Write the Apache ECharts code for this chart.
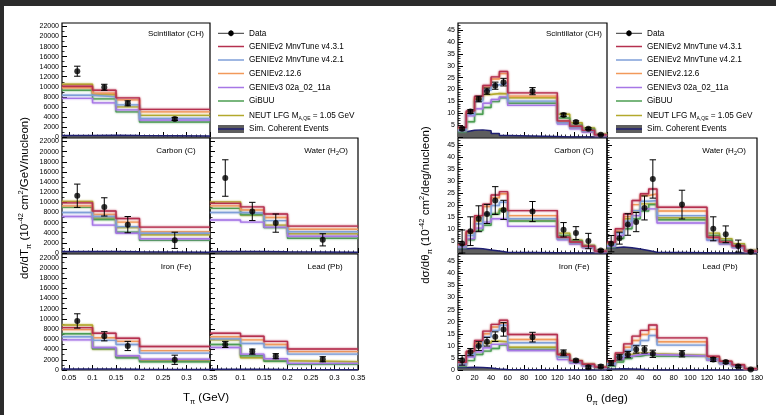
<!DOCTYPE html>
<html>
<head>
<meta charset="utf-8">
<script src="https://cdn.jsdelivr.net/npm/echarts@6/dist/echarts.min.js"></script>
<style>html,body{margin:0;padding:0;background:#fff;}#c{width:776px;height:415px;}</style>
</head>
<body>
<div id="c"></div>
<script>
// ---------------- DATA ----------------
// bin edges and data-point centres
const tEdges = [0.035, 0.1, 0.15, 0.2, 0.35];
const tCenters = [0.0675, 0.125, 0.175, 0.275];
const thEdges = [0, 10, 20, 30, 40, 50, 60, 120, 135, 150, 165, 180];
const thCenters = [5, 15, 25, 35, 45, 55, 90, 127.5, 142.5, 157.5, 172.5];

// tick labels
const tTickLabels = [0.05, 0.1, 0.15, 0.2, 0.25, 0.3, 0.35];
const tTickLabelsLead = [0.1, 0.15, 0.2, 0.25, 0.3, 0.35];
const thTickLabels = [0, 20, 40, 60, 80, 100, 120, 140, 160, 180];
const thTickLabelsLead = [20, 40, 60, 80, 100, 120, 140, 160, 180];
const tYTickLabels = [0, 2000, 4000, 6000, 8000, 10000, 12000, 14000, 16000, 18000, 20000, 22000];
const thYTickLabels = [5, 10, 15, 20, 25, 30, 35, 40, 45];
const thYTickLabelsBottom = [0, 5, 10, 15, 20, 25, 30, 35, 40, 45];

// model names (row order: v4.3.1, v4.2.1, 2.12.6, v3, GiBUU, NEUT)
const modelNames = ['GENIEv2 MnvTune v4.3.1', 'GENIEv2 MnvTune v4.2.1', 'GENIEv2.12.6', 'GENIEv3 02a_02_11a', 'GiBUU', 'NEUT LFG MA,QE = 1.05 GeV'];

// ---- T_pi (1e-42 cm2/GeV/nucleon) ----
const tScintModels = [
  [10100, 9300, 7800, 5500],
  [8300, 8000, 6400, 3700],
  [9800, 8700, 7400, 5000],
  [7700, 6800, 5400, 3400],
  [9300, 7600, 5000, 3000],
  [10500, 8400, 6000, 4300]
];
const tScintData = [13100, 9900, 6700, 3600];
const tScintErr = [1000, 600, 500, 300];
const tScintCoh = [300, 350, 300, 200];

const tCarbonModels = [
  [9900, 8300, 6800, 5100],
  [8000, 7200, 5200, 3900],
  [9300, 7600, 6100, 4200],
  [7200, 5500, 3900, 2800],
  [9000, 6600, 4100, 2500],
  [10200, 6900, 5000, 3600]
];
const tCarbonData = [11300, 9100, 5600, 2500];
const tCarbonErr = [2300, 1800, 1600, 1600];
const tCarbonCoh = [300, 300, 250, 150];

const tWaterModels = [
  [9800, 9100, 7700, 5300],
  [8000, 7900, 6400, 4200],
  [9300, 8500, 7000, 4700],
  [6500, 6100, 5100, 3300],
  [8800, 7600, 5000, 2900],
  [10100, 7500, 5500, 3800]
];
const tWaterData = [14800, 8200, 5900, 2600];
const tWaterErr = [3600, 1800, 1800, 1200];
const tWaterCoh = [300, 300, 250, 150];

const tIronModels = [
  [8300, 7200, 6200, 4600],
  [6500, 5800, 5000, 3300],
  [7900, 6300, 5600, 3800],
  [5900, 4400, 2800, 2100],
  [7100, 4200, 2400, 1600],
  [8800, 4100, 2600, 1900]
];
const tIronData = [9600, 6600, 4700, 2000];
const tIronErr = [1400, 900, 900, 900];
const tIronCoh = [200, 200, 150, 100];

const tLeadModels = [
  [7200, 6600, 5600, 4100],
  [6100, 5200, 4400, 3100],
  [6500, 5900, 5000, 3600],
  [4400, 3100, 2200, 1300],
  [5000, 2800, 1700, 1100],
  [5900, 2400, 1800, 1600]
];
const tLeadData = [5000, 3600, 2700, 2100];
const tLeadErr = [600, 500, 500, 500];
const tLeadCoh = [150, 150, 100, 50];

// ---- theta_pi (1e-42 cm2/deg/nucleon) ----
const thScintModels = [
  [4.0, 11.0, 17.2, 21.7, 25.3, 27.6, 18.6, 6.8, 4.5, 2.8, 0.9],
  [3.0, 9.6, 15.1, 19.7, 22.0, 22.5, 15.1, 6.0, 4.0, 2.4, 0.8],
  [3.6, 10.3, 16.5, 21.0, 24.4, 26.7, 17.2, 6.5, 4.2, 2.6, 0.8],
  [2.7, 8.9, 11.9, 14.2, 15.8, 16.9, 13.3, 5.5, 3.5, 2.0, 0.6],
  [2.2, 6.4, 9.6, 12.4, 14.9, 16.5, 14.2, 8.0, 5.0, 3.3, 0.9],
  [3.3, 9.9, 15.8, 17.9, 18.3, 18.2, 16.5, 9.6, 6.0, 3.8, 1.3]
];
const thScintData = [3.5, 10.7, 16.0, 19.3, 21.6, 23.1, 19.3, 9.3, 6.3, 3.5, 1.0];
const thScintErr = [0.6, 0.8, 1.2, 1.3, 1.5, 1.6, 1.5, 0.7, 0.5, 0.4, 0.2];
const thScintCoh = [2.2, 2.8, 3.0, 2.6, 1.5, 0.6, 0.2, 0, 0, 0, 0];

const thCarbonModels = [
  [3.5, 9.1, 15.6, 20.4, 24.2, 25.6, 17.7, 6.6, 4.6, 2.8, 0.8],
  [2.8, 7.3, 12.2, 16.3, 19.8, 21.2, 14.3, 5.8, 4.0, 2.5, 0.7],
  [3.2, 8.8, 14.9, 19.4, 23.0, 24.7, 15.6, 6.2, 4.3, 2.6, 0.8],
  [2.5, 6.0, 10.4, 12.9, 14.3, 14.3, 11.1, 5.5, 3.6, 2.2, 0.6],
  [2.2, 5.5, 9.4, 11.6, 16.3, 17.7, 13.3, 7.3, 5.0, 3.0, 0.9],
  [3.0, 8.4, 13.3, 16.1, 16.6, 18.4, 13.6, 8.3, 5.3, 3.2, 1.1]
];
const thCarbonData = [4.0, 9.1, 14.3, 16.3, 21.9, 18.0, 17.3, 9.7, 8.3, 5.0, 1.0];
const thCarbonErr = [5.6, 6.0, 5.4, 4.0, 5.8, 4.0, 4.2, 3.0, 2.7, 3.2, 0.5];
const thCarbonCoh = [1.8, 2.0, 1.8, 1.3, 0.8, 0.3, 0.1, 0, 0, 0, 0];

const thWaterModels = [
  [4.5, 10.1, 16.3, 21.9, 24.7, 26.7, 19.1, 6.6, 4.6, 2.9, 0.8],
  [3.2, 8.3, 13.3, 17.7, 21.6, 21.9, 15.6, 5.5, 3.9, 2.5, 0.7],
  [3.8, 9.1, 15.2, 20.2, 24.0, 24.7, 17.5, 6.2, 4.2, 2.7, 0.8],
  [2.8, 7.3, 11.5, 15.6, 18.4, 18.4, 12.5, 5.3, 3.6, 2.2, 0.6],
  [2.5, 6.0, 10.1, 14.3, 17.5, 20.2, 13.9, 7.3, 5.2, 3.2, 0.9],
  [3.5, 9.0, 14.3, 17.5, 20.5, 20.5, 14.7, 8.3, 6.0, 3.9, 1.2]
];
const thWaterData = [3.9, 6.2, 11.9, 12.9, 18.8, 30.9, 20.2, 10.1, 7.8, 2.9, 0.5];
const thWaterErr = [3.4, 2.5, 4.5, 4.0, 5.0, 8.0, 6.0, 5.0, 3.5, 2.5, 0.4];
const thWaterCoh = [2.2, 2.5, 2.2, 1.7, 1.0, 0.3, 0.1, 0, 0, 0, 0];

const thIronModels = [
  [3.2, 7.8, 12.2, 16.1, 18.9, 20.6, 14.7, 6.4, 3.9, 2.4, 1.2],
  [2.5, 6.4, 9.9, 13.7, 16.4, 18.5, 11.3, 5.5, 3.3, 2.0, 1.0],
  [2.8, 7.3, 11.1, 15.0, 17.8, 19.3, 12.6, 6.0, 3.5, 2.2, 1.1],
  [2.0, 5.4, 7.5, 9.2, 10.6, 10.8, 8.1, 4.3, 2.8, 1.6, 0.8],
  [1.5, 3.9, 6.4, 7.8, 8.9, 10.3, 8.5, 5.4, 3.3, 2.0, 1.0],
  [2.6, 6.8, 9.9, 11.0, 11.9, 11.7, 9.4, 6.7, 3.9, 2.4, 1.3]
];
const thIronData = [4.0, 7.4, 9.9, 11.7, 13.8, 16.8, 13.6, 7.1, 3.9, 1.1, 1.5];
const thIronErr = [2.0, 1.5, 1.8, 1.8, 2.0, 2.8, 2.0, 1.2, 0.6, 0.6, 0.6];
const thIronCoh = [1.0, 1.1, 1.0, 0.8, 0.4, 0.2, 0.05, 0, 0, 0, 0];

const thLeadModels = [
  [3.6, 7.1, 10.8, 14.0, 16.4, 18.6, 13.3, 5.7, 3.6, 2.2, 0.5],
  [2.6, 5.7, 8.1, 10.3, 12.2, 14.3, 10.3, 4.7, 3.0, 1.8, 0.4],
  [3.0, 6.4, 9.4, 12.2, 14.7, 16.8, 11.7, 5.2, 3.3, 2.0, 0.5],
  [2.2, 4.6, 5.7, 6.4, 6.7, 6.4, 5.8, 4.0, 2.6, 1.5, 0.4],
  [1.5, 3.3, 4.7, 5.7, 6.4, 5.7, 5.7, 4.1, 2.8, 1.6, 0.4],
  [2.4, 5.0, 6.4, 7.1, 7.1, 6.7, 6.0, 4.6, 3.0, 1.7, 0.5]
];
const thLeadData = [2.9, 5.3, 6.4, 8.5, 8.5, 6.7, 6.7, 4.3, 3.3, 1.5, 0.2];
const thLeadErr = [1.0, 1.2, 1.3, 1.5, 1.5, 1.5, 1.3, 0.8, 0.5, 0.5, 0.3];
const thLeadCoh = [0.4, 0.5, 0.4, 0.3, 0.15, 0.05, 0, 0, 0, 0, 0];

// ---------------- STYLE / LAYOUT ----------------
const FONT = '"Liberation Sans", Arial, Helvetica, sans-serif';
const modelColors = ['#b5304f', '#7f9fd8', '#f2995a', '#a777e6', '#4c9e52', '#b3a92c'];
const cohFill = '#5e5e5e';
const cohLine = '#1f1f72';

const panels = [
  // T_pi
  {kind: 't', m: tScintModels, d: tScintData, e: tScintErr, c: tScintCoh, g: {left: 62, top: 23, width: 148, height: 114}, xl: null, yl: tYTickLabels, label: '{n|Scintillator (CH)}', lx: 176, ly: 34},
  {kind: 't', m: tCarbonModels, d: tCarbonData, e: tCarbonErr, c: tCarbonCoh, g: {left: 62, top: 138, width: 148, height: 115}, xl: null, yl: tYTickLabels, label: '{n|Carbon (C)}', lx: 176, ly: 151},
  {kind: 't', m: tWaterModels, d: tWaterData, e: tWaterErr, c: tWaterCoh, g: {left: 210, top: 138, width: 148, height: 115}, xl: null, yl: null, label: '{n|Water (H}{s|2}{n|O)}', lx: 326, ly: 151},
  {kind: 't', m: tIronModels, d: tIronData, e: tIronErr, c: tIronCoh, g: {left: 62, top: 254, width: 148, height: 116}, xl: tTickLabels, yl: tYTickLabels, label: '{n|Iron (Fe)}', lx: 176, ly: 267},
  {kind: 't', m: tLeadModels, d: tLeadData, e: tLeadErr, c: tLeadCoh, g: {left: 210, top: 254, width: 148, height: 116}, xl: tTickLabelsLead, yl: null, label: '{n|Lead (Pb)}', lx: 325, ly: 267},
  // theta_pi
  {kind: 'th', m: thScintModels, d: thScintData, e: thScintErr, c: thScintCoh, g: {left: 458, top: 23, width: 149, height: 114}, xl: null, yl: thYTickLabels, label: '{n|Scintillator (CH)}', lx: 574, ly: 34},
  {kind: 'th', m: thCarbonModels, d: thCarbonData, e: thCarbonErr, c: thCarbonCoh, g: {left: 458, top: 138, width: 149, height: 115}, xl: null, yl: thYTickLabels, label: '{n|Carbon (C)}', lx: 574, ly: 151},
  {kind: 'th', m: thWaterModels, d: thWaterData, e: thWaterErr, c: thWaterCoh, g: {left: 607, top: 138, width: 150, height: 115}, xl: null, yl: null, label: '{n|Water (H}{s|2}{n|O)}', lx: 724, ly: 151},
  {kind: 'th', m: thIronModels, d: thIronData, e: thIronErr, c: thIronCoh, g: {left: 458, top: 254, width: 149, height: 116}, xl: thTickLabels, yl: thYTickLabelsBottom, label: '{n|Iron (Fe)}', lx: 574, ly: 267},
  {kind: 'th', m: thLeadModels, d: thLeadData, e: thLeadErr, c: thLeadCoh, g: {left: 607, top: 254, width: 150, height: 116}, xl: thTickLabelsLead, yl: null, label: '{n|Lead (Pb)}', lx: 720, ly: 267}
];

function range(a, b, step) { const r = []; for (let v = a; v <= b + 1e-9; v += step) r.push(+v.toFixed(4)); return r; }
const axisDefs = {
  t: {xMin: tEdges[0], xMax: tEdges[tEdges.length - 1], xMajor: tTickLabels, xMinor: range(0.04, 0.35, 0.01),
      yMax: 22700, yMajor: tYTickLabels, yMinor: range(1000, 22000, 1000), edges: tEdges, centers: tCenters},
  th: {xMin: 0, xMax: 180, xMajor: thTickLabels, xMinor: range(0, 180, 5),
       yMax: 48, yMajor: thYTickLabelsBottom, yMinor: range(1, 47, 1), edges: thEdges, centers: thCenters}
};

function hist(edges, vals) {
  const d = vals.map((v, i) => [edges[i], v]);
  d.push([edges[edges.length - 1], vals[vals.length - 1]]);
  return d;
}

const grids = [], xAxes = [], yAxes = [], series = [], graphic = [];
const lbl = {fontSize: 7.5, color: '#000', fontFamily: FONT};

panels.forEach((p, gi) => {
  const a = axisDefs[p.kind];
  grids.push(Object.assign({show: true, borderColor: '#000', borderWidth: 1.2, backgroundColor: 'transparent', containLabel: false}, p.g));
  const xi = xAxes.length, yi = yAxes.length;
  xAxes.push({type: 'value', gridIndex: gi, min: a.xMin, max: a.xMax, position: 'bottom',
    axisLine: {show: false}, splitLine: {show: false},
    axisTick: {show: true, inside: true, length: 5, customValues: a.xMajor, lineStyle: {color: '#000', width: 1}},
    axisLabel: Object.assign({show: !!p.xl, customValues: p.xl || [], margin: 4, formatter: v => String(v)}, lbl)});
  xAxes.push({type: 'value', gridIndex: gi, min: a.xMin, max: a.xMax, position: 'bottom',
    axisLine: {show: false}, splitLine: {show: false}, axisLabel: {show: false},
    axisTick: {show: true, inside: true, length: 2.5, customValues: a.xMinor, lineStyle: {color: '#000', width: 0.8}}});
  yAxes.push({type: 'value', gridIndex: gi, min: 0, max: a.yMax, position: 'left',
    axisLine: {show: false}, splitLine: {show: false},
    axisTick: {show: true, inside: true, length: 5, customValues: a.yMajor, lineStyle: {color: '#000', width: 1}},
    axisLabel: Object.assign({show: !!p.yl, customValues: p.yl || [], margin: 3, formatter: v => String(v)}, lbl, {fontSize: 7})});
  yAxes.push({type: 'value', gridIndex: gi, min: 0, max: a.yMax, position: 'left',
    axisLine: {show: false}, splitLine: {show: false}, axisLabel: {show: false},
    axisTick: {show: true, inside: true, length: 2.5, customValues: a.yMinor, lineStyle: {color: '#000', width: 0.8}}});

  // coherent events (filled)
  series.push({type: 'line', name: 'Sim. Coherent Events', xAxisIndex: xi, yAxisIndex: yi, step: 'end', symbol: 'none', silent: true, z: 2,
    data: hist(a.edges, p.c), lineStyle: {color: cohLine, width: 1.5}, areaStyle: {color: cohFill, opacity: 1}});
  // models
  p.m.forEach((vals, mi) => {
    series.push({type: 'line', name: modelNames[mi], xAxisIndex: xi, yAxisIndex: yi, step: 'end', symbol: 'none', silent: true, z: 3 + (5 - mi) * 0.01,
      data: hist(a.edges, vals),
      lineStyle: {color: modelColors[mi], width: 1.4, shadowColor: modelColors[mi], shadowBlur: 2}});
  });
  // data error bars
  series.push({type: 'custom', name: 'Data', xAxisIndex: xi, yAxisIndex: yi, silent: true, z: 5,
    data: p.d.map((v, i) => [a.centers[i], v, p.e[i]]),
    renderItem: function (params, api) {
      const x = api.value(0), y = api.value(1), e = api.value(2);
      const top = api.coord([x, y + e]);
      const bot = api.coord([x, Math.max(0, y - e)]);
      const cap = 3.2;
      const st = {stroke: '#000', lineWidth: 1};
      return {type: 'group', children: [
        {type: 'line', shape: {x1: top[0], y1: top[1], x2: top[0], y2: bot[1]}, style: st},
        {type: 'line', shape: {x1: top[0] - cap, y1: top[1], x2: top[0] + cap, y2: top[1]}, style: st},
        {type: 'line', shape: {x1: top[0] - cap, y1: bot[1], x2: top[0] + cap, y2: bot[1]}, style: st}
      ]};
    }});
  series.push({type: 'scatter', name: 'Data', xAxisIndex: xi, yAxisIndex: yi, silent: true, z: 6,
    symbol: 'circle', symbolSize: 6, itemStyle: {color: '#000'},
    data: p.d.map((v, i) => [a.centers[i], v])});

  graphic.push({type: 'text', x: p.lx, y: p.ly, z: 50, style: {text: p.label, align: 'center', verticalAlign: 'middle',
    rich: {n: {fontSize: 8, fontFamily: FONT, fill: '#000', lineHeight: 10}, s: {fontSize: 5.5, fontFamily: FONT, fill: '#000', lineHeight: 5, verticalAlign: 'bottom'}}}});
});

// ----- legends -----
const legendRowsY = [33.3, 46.5, 60, 73.5, 87.5, 101, 115.5, 129];
function legend(x0, xt) {
  const w = 26;
  const y0 = legendRowsY[0];
  graphic.push({type: 'line', shape: {x1: x0, y1: y0, x2: x0 + w, y2: y0}, style: {stroke: '#333', lineWidth: 1}, z: 50});
  graphic.push({type: 'line', shape: {x1: x0 + w / 2, y1: y0 - 3, x2: x0 + w / 2, y2: y0 + 3}, style: {stroke: '#000', lineWidth: 1}, z: 50});
  graphic.push({type: 'circle', shape: {cx: x0 + w / 2, cy: y0, r: 2.7}, style: {fill: '#000'}, z: 51});
  graphic.push({type: 'text', x: xt, y: y0, z: 50, style: {text: 'Data', fontSize: 8.2, fontFamily: FONT, fill: '#000', verticalAlign: 'middle'}});
  modelNames.forEach((nm, i) => {
    const y = legendRowsY[i + 1];
    graphic.push({type: 'line', shape: {x1: x0, y1: y, x2: x0 + w, y2: y}, style: {stroke: modelColors[i], lineWidth: 1.5}, z: 50});
    const txt = i === 5 ? '{n|NEUT LFG M}{s|A,QE}{n| = 1.05 GeV}' : '{n|' + nm + '}';
    graphic.push({type: 'text', x: xt, y: y, z: 50, style: {text: txt, verticalAlign: 'middle',
      rich: {n: {fontSize: 8.2, fontFamily: FONT, fill: '#000', lineHeight: 11}, s: {fontSize: 5, fontFamily: FONT, fill: '#000', lineHeight: 5, verticalAlign: 'bottom'}}}});
  });
  const yc = legendRowsY[7];
  graphic.push({type: 'rect', shape: {x: x0, y: yc - 4, width: w, height: 8}, style: {fill: cohFill}, z: 50});
  graphic.push({type: 'line', shape: {x1: x0, y1: yc, x2: x0 + w, y2: yc}, style: {stroke: cohLine, lineWidth: 1.5}, z: 51});
  graphic.push({type: 'text', x: xt, y: yc, z: 50, style: {text: 'Sim. Coherent Events', fontSize: 8.2, fontFamily: FONT, fill: '#000', verticalAlign: 'middle'}});
}
legend(218, 249);
legend(616, 647);

// ----- axis titles -----
const titleRich = {
  n: {fontSize: 11.5, fontFamily: FONT, fill: '#000', lineHeight: 16},
  sub: {fontSize: 7.5, fontFamily: FONT, fill: '#000', lineHeight: 9, verticalAlign: 'bottom'},
  sup: {fontSize: 7.5, fontFamily: FONT, fill: '#000', lineHeight: 9, verticalAlign: 'top'}
};
graphic.push({type: 'text', x: 25, y: 198, rotation: Math.PI / 2, z: 50, style: {
  text: '{n|dσ/dT}{sub|π}{n| (10}{sup|-42}{n| cm}{sup|2}{n|/GeV/nucleon)}', align: 'center', verticalAlign: 'middle', rich: titleRich}});
graphic.push({type: 'text', x: 426, y: 205, rotation: Math.PI / 2, z: 50, style: {
  text: '{n|dσ/dθ}{sub|π}{n| (10}{sup|-42}{n| cm}{sup|2}{n|/deg/nucleon)}', align: 'center', verticalAlign: 'middle', rich: titleRich}});
graphic.push({type: 'text', x: 206, y: 398, z: 50, style: {
  text: '{n|T}{sub|π}{n| (GeV)}', align: 'center', verticalAlign: 'middle', rich: titleRich}});
graphic.push({type: 'text', x: 607, y: 399, z: 50, style: {
  text: '{n|θ}{sub|π}{n| (deg)}', align: 'center', verticalAlign: 'middle', rich: titleRich}});

// dark frame of the screenshot
graphic.push({type: 'rect', shape: {x: 0, y: 0, width: 776, height: 6}, style: {fill: '#2b2b2b'}, z: 100});
graphic.push({type: 'rect', shape: {x: 0, y: 0, width: 4, height: 415}, style: {fill: '#2b2b2b'}, z: 100});

const chart = echarts.init(document.getElementById('c'), null, {renderer: 'canvas', width: 776, height: 415});
chart.setOption({
  animation: false,
  backgroundColor: '#fff',
  textStyle: {fontFamily: FONT},
  grid: grids,
  xAxis: xAxes,
  yAxis: yAxes,
  series: series,
  graphic: graphic
});
</script>
</body>
</html>
